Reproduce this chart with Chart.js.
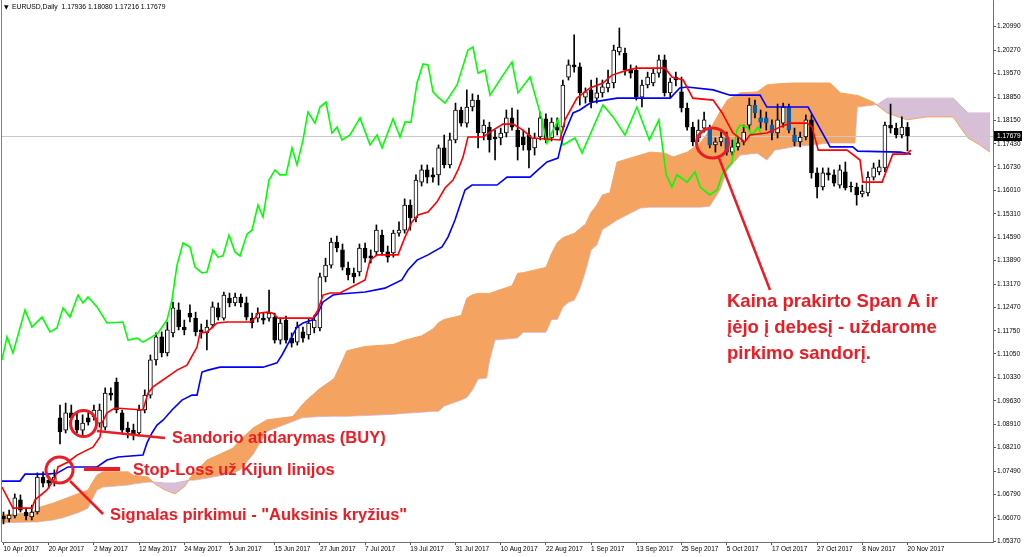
<!DOCTYPE html>
<html><head><meta charset="utf-8">
<script src="https://cdn.jsdelivr.net/npm/chart.js@4.4.1/dist/chart.umd.min.js"></script>
<style>html,body{margin:0;padding:0;background:#fff;overflow:hidden}canvas{display:block}</style>
</head><body>
<canvas id="c" width="1024" height="557"></canvas>
<script>
// ---------------- DATA ----------------
const symbolTitle = 'EURUSD,Daily';
const dateTicks = ['10 Apr 2017','20 Apr 2017','2 May 2017','12 May 2017','24 May 2017','5 Jun 2017','15 Jun 2017','27 Jun 2017','7 Jul 2017','19 Jul 2017','31 Jul 2017','10 Aug 2017','22 Aug 2017','1 Sep 2017','13 Sep 2017','25 Sep 2017','5 Oct 2017','17 Oct 2017','27 Oct 2017','8 Nov 2017','20 Nov 2017'];
const dateTickIndex = [0,8,16,24,32,40,48,56,64,72,80,88,96,104,112,120,128,136,144,152,160];
const yTickLabels = [1.20990,1.20270,1.19570,1.18850,1.18150,1.17430,1.16730,1.16010,1.15310,1.14590,1.13890,1.13170,1.12470,1.11750,1.11050,1.10330,1.09630,1.08910,1.08210,1.07490,1.06790,1.06070,1.05370];

const openP = [1.0613,1.0604,1.0613,1.0662,1.0625,1.0610,1.0625,1.0731,1.0722,1.0716,
1.0911,1.0874,1.0926,1.0904,1.0874,1.0911,1.0914,1.0895,1.0883,1.0986,
1.1020,1.0926,1.0880,1.0874,1.0865,1.0935,1.0980,1.1087,1.1157,1.1108,
1.1169,1.1239,1.1187,1.1229,1.1214,1.1178,1.1169,1.1193,1.1245,1.1214,
1.1275,1.1260,1.1278,1.1260,1.1214,1.1214,1.1214,1.1214,1.1217,1.1147,
1.1208,1.1153,1.1141,1.1172,1.1163,1.1184,1.1184,1.1339,1.1375,1.1445,
1.1421,1.1366,1.1351,1.1354,1.1427,1.1403,1.1415,1.1466,1.1415,1.1412,
1.1472,1.1481,1.1557,1.1518,1.1627,1.1664,1.1649,1.1649,1.1731,1.1679,
1.1755,1.1846,1.1806,1.1855,1.1876,1.1776,1.1794,1.1764,1.1761,1.1776,
1.1822,1.1785,1.1764,1.1770,1.1731,1.1764,1.1819,1.1761,1.1794,1.1794,
1.1946,1.1983,1.1977,1.1885,1.1907,1.1882,1.1898,1.1913,1.1928,1.2022,
1.2019,1.1967,1.1967,1.1885,1.1922,1.1928,1.1958,1.1998,1.1898,1.1946,
1.1901,1.1852,1.1794,1.1761,1.1791,1.1791,1.1740,1.1749,1.1761,1.1718,
1.1734,1.1749,1.1800,1.1861,1.1822,1.1822,1.1800,1.1776,1.1806,1.1855,
1.1770,1.1749,1.1764,1.1816,1.1655,1.1612,1.1655,1.1649,1.1618,1.1658,
1.1615,1.1612,1.1591,1.1594,1.1642,1.1658,1.1670,1.1800,1.1791,1.1770,
1.17936];
const highP = [1.0625,1.0631,1.0680,1.0677,1.0637,1.0646,1.0744,1.0747,1.0734,1.0753,
1.0950,1.0956,1.0950,1.0929,1.0920,1.0926,1.0950,1.0953,1.1002,1.1002,
1.1032,1.0935,1.0898,1.0892,1.0950,1.0996,1.1102,1.1169,1.1172,1.1202,
1.1263,1.1260,1.1208,1.1254,1.1232,1.1196,1.1208,1.1263,1.1260,1.1293,
1.1290,1.1290,1.1287,1.1278,1.1229,1.1245,1.1229,1.1299,1.1229,1.1214,
1.1220,1.1169,1.1202,1.1187,1.1214,1.1223,1.1351,1.1396,1.1457,1.1463,
1.1439,1.1384,1.1366,1.1439,1.1442,1.1421,1.1497,1.1481,1.1433,1.1481,
1.1506,1.1576,1.1573,1.1649,1.1679,1.1679,1.1670,1.1740,1.1770,1.1776,
1.1867,1.1855,1.1907,1.1895,1.1891,1.1816,1.1809,1.1785,1.1791,1.1846,
1.1852,1.1846,1.1785,1.1791,1.1776,1.1840,1.1834,1.1822,1.1822,1.1937,
1.1998,1.2074,1.1989,1.1913,1.1937,1.1943,1.1937,1.1967,1.2043,1.2095,
1.2034,1.1983,1.1980,1.1937,1.1961,1.1973,1.2013,1.2013,1.1943,1.1961,
1.1946,1.1867,1.1809,1.1816,1.1840,1.1800,1.1761,1.1779,1.1779,1.1755,
1.1764,1.1800,1.1882,1.1876,1.1846,1.1840,1.1816,1.1864,1.1867,1.1864,
1.1791,1.1779,1.1831,1.1831,1.1670,1.1670,1.1670,1.1664,1.1679,1.1688,
1.1627,1.1624,1.1618,1.1658,1.1685,1.1694,1.1809,1.1864,1.1806,1.1825,
1.18080];
const lowP = [1.0589,1.0595,1.0607,1.0625,1.0601,1.0601,1.0619,1.0701,1.0698,1.0704,
1.0832,1.0865,1.0880,1.0865,1.0859,1.0889,1.0904,1.0883,1.0874,1.0965,
1.0926,1.0862,1.0850,1.0844,1.0856,1.0926,1.0971,1.1071,1.1096,1.1099,
1.1157,1.1178,1.1163,1.1202,1.1160,1.1153,1.1117,1.1184,1.1208,1.1208,
1.1248,1.1251,1.1248,1.1208,1.1184,1.1202,1.1196,1.1205,1.1138,1.1135,
1.1138,1.1126,1.1132,1.1141,1.1150,1.1169,1.1175,1.1324,1.1366,1.1415,
1.1360,1.1330,1.1321,1.1342,1.1384,1.1381,1.1403,1.1406,1.1384,1.1399,
1.1463,1.1472,1.1481,1.1506,1.1615,1.1624,1.1627,1.1618,1.1670,1.1670,
1.1746,1.1797,1.1794,1.1843,1.1731,1.1755,1.1718,1.1694,1.1740,1.1764,
1.1785,1.1694,1.1724,1.1670,1.1709,1.1755,1.1746,1.1752,1.1770,1.1785,
1.1937,1.1961,1.1861,1.1867,1.1852,1.1867,1.1885,1.1901,1.1913,1.2013,
1.1952,1.1943,1.1876,1.1855,1.1913,1.1919,1.1946,1.1888,1.1885,1.1919,
1.1840,1.1785,1.1737,1.1749,1.1779,1.1731,1.1718,1.1737,1.1709,1.1709,
1.1724,1.1740,1.1785,1.1822,1.1791,1.1785,1.1755,1.1761,1.1794,1.1776,
1.1737,1.1734,1.1755,1.1639,1.1579,1.1603,1.1633,1.1615,1.1609,1.1603,
1.1597,1.1557,1.1582,1.1585,1.1633,1.1649,1.1658,1.1776,1.1761,1.1761,
1.17216];
const closeP = [1.0604,1.0616,1.0668,1.0631,1.0613,1.0625,1.0731,1.0713,1.0713,1.0731,
1.0868,1.0926,1.0911,1.0874,1.0895,1.0898,1.0935,1.0935,1.0986,1.0980,
1.0935,1.0874,1.0868,1.0862,1.0935,1.0980,1.1087,1.1157,1.1108,1.1178,
1.1245,1.1187,1.1178,1.1217,1.1172,1.1172,1.1187,1.1248,1.1217,1.1284,
1.1260,1.1278,1.1260,1.1217,1.1199,1.1229,1.1208,1.1229,1.1147,1.1199,
1.1147,1.1138,1.1187,1.1153,1.1199,1.1208,1.1339,1.1375,1.1445,1.1427,
1.1369,1.1345,1.1339,1.1427,1.1396,1.1396,1.1481,1.1415,1.1399,1.1472,
1.1481,1.1557,1.1518,1.1633,1.1664,1.1642,1.1642,1.1731,1.1679,1.1755,
1.1846,1.1806,1.1855,1.1876,1.1776,1.1800,1.1755,1.1758,1.1776,1.1822,
1.1794,1.1734,1.1740,1.1724,1.1761,1.1822,1.1755,1.1809,1.1785,1.1922,
1.1983,1.1977,1.1898,1.1901,1.1870,1.1898,1.1916,1.1928,1.2028,1.2037,
1.1967,1.1958,1.1885,1.1922,1.1946,1.1958,1.1998,1.1898,1.1931,1.1937,
1.1852,1.1794,1.1749,1.1785,1.1816,1.1740,1.1749,1.1764,1.1718,1.1734,
1.1746,1.1779,1.1861,1.1837,1.1809,1.1806,1.1776,1.1816,1.1855,1.1785,
1.1749,1.1764,1.1816,1.1655,1.1612,1.1655,1.1649,1.1624,1.1664,1.1609,
1.1612,1.1588,1.1600,1.1642,1.1670,1.1673,1.1800,1.1791,1.1770,1.1794,
1.17679];

// Tenkan-sen (red) vertices: bar index, price
const tenkanIdx = [-0.27,1.68,5.04,5.58,7.70,9.12,9.65,11.42,13.01,14.78,15.84,17.08,17.43,18.32,19.73,24.69,25.58,26.46,27.70,28.94,30.71,32.48,34.25,34.78,36.02,37.79,39.56,43.63,44.51,45.04,46.81,47.70,48.58,54.78,55.66,56.55,57.79,59.56,64.0,64.87,66.11,69.82,71.06,72.30,73.36,75.13,76.73,78.14,79.56,80.44,81.33,82.21,84.87,86.64,88.41,90.18,91.95,93.54,98.50,99.38,101.5,103.8,106.1,107.7,110.4,112.1,117.1,118.3,120.3,122.0,125.6,127.2,129.1,131.2,132.1,135.1,137.4,139.2,142.2,143.1,144.2,149.3,151.6,152.1,155.5,157.4,159.9,160.6];
const tenkanVal = [1.0701,1.0637,1.0637,1.0662,1.0692,1.0728,1.0762,1.0777,1.0798,1.0813,1.0822,1.0853,1.0895,1.0926,1.0941,1.0935,1.0986,1.1005,1.1020,1.1035,1.1056,1.1071,1.1126,1.1169,1.1172,1.1199,1.1202,1.1202,1.1214,1.1229,1.1232,1.1229,1.1214,1.1214,1.1239,1.1284,1.1290,1.1290,1.1330,1.1390,1.1406,1.1406,1.1460,1.1506,1.1527,1.1536,1.1567,1.1609,1.1633,1.1664,1.1703,1.1764,1.1764,1.1785,1.1803,1.1803,1.1785,1.1761,1.1755,1.1816,1.1882,1.1913,1.1928,1.1952,1.1967,1.1973,1.1973,1.1946,1.1937,1.1882,1.1876,1.1837,1.1776,1.1749,1.1770,1.1776,1.1794,1.1806,1.1806,1.1794,1.1724,1.1724,1.1694,1.1627,1.1627,1.1712,1.1712,1.1724];

// Kijun-sen (blue)
const kijunIdx = [-0.27,2.92,3.81,7.70,9.47,11.42,16.55,18.32,20.27,24.69,25.40,26.28,27.17,28.23,29.82,31.59,33.36,34.25,35.13,36.19,38.32,45.93,48.41,49.29,50.71,51.95,53.01,54.60,55.66,56.55,58.32,59.56,64.0,67.5,70.5,71.59,73.19,75.13,77.61,78.67,79.91,81.68,82.92,87.35,89.12,93.19,94.60,96.19,98.14,99.03,100.8,102.0,103.3,104.2,108.6,118.0,119.7,121.0,125.6,128.6,133.9,135.1,142.4,146.3,150.3,151.2,158.7,160.6];
const kijunVal = [1.0719,1.0719,1.0740,1.0740,1.0743,1.0762,1.0762,1.0783,1.0792,1.0798,1.0835,1.0865,1.0889,1.0904,1.0935,1.0965,1.0980,1.0980,1.1050,1.1056,1.1065,1.1065,1.1078,1.1102,1.1147,1.1187,1.1199,1.1208,1.1229,1.1263,1.1284,1.1287,1.1293,1.1305,1.1330,1.1360,1.1390,1.1406,1.1430,1.1460,1.1512,1.1603,1.1618,1.1618,1.1642,1.1642,1.1664,1.1688,1.1700,1.1764,1.1837,1.1846,1.1861,1.1870,1.1882,1.1882,1.1913,1.1916,1.1907,1.1891,1.1891,1.1855,1.1855,1.1734,1.1734,1.1721,1.1718,1.1712];

// Chikou span (green)
const chikouIdx = [-0.27,0.62,1.68,3.81,5.04,6.81,8.23,9.47,10.53,11.77,13.19,14.07,14.96,16.55,18.32,21.15,22.04,23.63,24.69,26.28,27.35,28.94,29.82,30.71,31.77,33.01,33.89,35.13,36.02,37.08,37.96,38.85,39.91,40.97,41.86,43.10,43.98,45.04,45.93,46.99,48.05,48.94,50.0,51.06,51.95,53.01,53.89,55.13,56.02,57.08,58.14,59.03,59.91,61.33,63.1,64.87,66.11,67.0,68.94,70.18,71.06,72.12,73.19,74.25,75.13,76.02,76.90,78.14,80.27,82.21,83.10,83.98,85.22,86.11,88.41,90.0,91.06,93.19,95.31,96.19,98.14,99.03,101.15,102.4,106.1,107.9,110.0,112.1,114.3,116.0,117.3,118.3,119.2,121.0,122.4,123.3,125.0,126.3,127.3,128.9,129.8,130.4,131.6,132.5,133.5,134.2];
const chikouVal = [1.1087,1.1157,1.1108,1.1239,1.1187,1.1217,1.1172,1.1184,1.1245,1.1217,1.1284,1.1260,1.1278,1.1248,1.1199,1.1202,1.1147,1.1153,1.1141,1.1157,1.1169,1.1208,1.1269,1.1375,1.1442,1.1430,1.1369,1.1351,1.1354,1.1421,1.1399,1.1403,1.1466,1.1415,1.1403,1.1469,1.1481,1.1557,1.1521,1.1633,1.1664,1.1649,1.1649,1.1731,1.1679,1.1755,1.1840,1.1806,1.1855,1.1870,1.1776,1.1794,1.1755,1.1770,1.1822,1.1740,1.1770,1.1731,1.1819,1.1764,1.1809,1.1809,1.1928,1.1986,1.1983,1.1901,1.1885,1.1867,1.1922,1.2028,1.2037,1.1958,1.1967,1.1891,1.1952,1.1992,1.1898,1.1946,1.1816,1.1746,1.1816,1.1740,1.1761,1.1715,1.1861,1.1825,1.1770,1.1855,1.1755,1.1816,1.1649,1.1612,1.1649,1.1627,1.1658,1.1612,1.1588,1.1603,1.1655,1.1685,1.1785,1.1800,1.1794,1.1770,1.1794,1.1770];

// Senkou span A / B (cloud), sampled at common bar indices
const cloudIdx = [-0.62,5.04,5.93,8.76,10.35,13.54,14.96,15.66,16.55,17.61,22.04,22.92,25.58,26.81,28.58,30.35,32.12,33.01,33.89,36.02,40.62,41.86,44.16,46.64,51.2,52.83,54.0,56.0,58.5,60.8,64.0,69.0,71.0,74.0,76.0,77.0,78.0,81.0,82.0,83.0,84.0,85.5,86.0,87.0,90.0,91.0,92.0,96.0,97.0,98.0,99.0,100.0,101.0,102.0,103.0,104.0,105.0,106.0,107.3,108.6,112.7,114.4,117.1,118.5,121.0,123.3,125.0,126.8,128.1,130.4,133.4,135.1,136.5,139.7,146.3,148.1,150.7,151.1,153.9,154.8,156.4,159.9,163.4,168.1,169.3,170.7,172.8,174.6];
const spanA = [1.0616,1.0622,1.0637,1.0652,1.0662,1.0683,1.0692,1.0713,1.0737,1.0747,1.0747,1.0737,1.0731,1.0710,1.0692,1.0680,1.0704,1.0728,1.0747,1.0783,1.0819,1.0844,1.0880,1.0905,1.0915,1.0950,1.0970,1.1000,1.1030,1.1115,1.1128,1.1134,1.1147,1.1160,1.1181,1.1200,1.1210,1.1222,1.1274,1.1285,1.1289,1.1289,1.1289,1.1295,1.1312,1.1350,1.1352,1.1368,1.1410,1.1443,1.1458,1.1465,1.1471,1.1485,1.1499,1.1535,1.1557,1.1588,1.1594,1.1688,1.1709,1.1718,1.1715,1.1703,1.1718,1.1746,1.1785,1.1840,1.1876,1.1898,1.1901,1.1922,1.1925,1.1928,1.1928,1.1898,1.1891,1.1891,1.1870,1.1858,1.1837,1.1816,1.1825,1.1825,1.1794,1.1761,1.1740,1.1718];
const spanB = [1.0592,1.0595,1.0595,1.0601,1.0607,1.0625,1.0637,1.0662,1.0692,1.0701,1.0707,1.0710,1.0716,1.0716,1.0713,1.0713,1.0719,1.0722,1.0722,1.0728,1.0743,1.0753,1.0800,1.0870,1.0900,1.0911,1.0913,1.0915,1.0916,1.0916,1.0918,1.0922,1.0925,1.0928,1.0931,1.0931,1.0947,1.0965,1.0973,1.0996,1.1029,1.1032,1.1084,1.1148,1.1152,1.1154,1.1171,1.1171,1.1210,1.1210,1.1247,1.1262,1.1268,1.1303,1.1356,1.1421,1.1436,1.1483,1.1497,1.1512,1.1548,1.1551,1.1551,1.1551,1.1551,1.1551,1.1554,1.1603,1.1664,1.1709,1.1715,1.1694,1.1724,1.1734,1.1746,1.1746,1.1746,1.1855,1.1861,1.1864,1.1882,1.1882,1.1882,1.1882,1.1861,1.1837,1.1837,1.1837];

// Annotation texts
const noteBuy = 'Sandorio atidarymas (BUY)';
const noteStop = 'Stop-Loss už Kijun linijos';
const noteSignal = 'Signalas pirkimui - "Auksinis kryžius"';
const noteExit = ['Kaina prakirto Span A ir', 'įėjo į debesį - uždarome', 'pirkimo sandorį.'];

// ---------------- STYLE ----------------
const RED = '#ec1c24';
const CLOUD_BODY_FROM = 124, CLOUD_BODY_TO = 142;
const lastI = closeP.length - 1;

const pts = (xs, ys) => xs.map((x, k) => ({x: x, y: ys[k]}));
const bodies = openP.map((o, i) => ({x: i, y: [o, closeP[i]]}));
const wicks = lowP.map((l, i) => ({x: i, y: [l, highP[i]]}));
const isBull = i => closeP[i] >= openP[i];
const bodyFill = ctx => {
  const i = ctx.dataIndex;
  if (isBull(i)) return '#ffffff';
  return (i >= CLOUD_BODY_FROM && i <= CLOUD_BODY_TO) ? '#0b5ea8' : '#000000';
};
const bodyBorder = ctx => {
  const i = ctx.dataIndex;
  if (isBull(i)) return '#000000';
  return (i >= CLOUD_BODY_FROM && i <= CLOUD_BODY_TO) ? '#0b5ea8' : '#000000';
};

const overlay = {
  id: 'overlay',
  afterDatasetDraw(chart, args) {
    if (args.index !== 0) return;
    const {ctx, chartArea: a, scales: {y}} = chart;
    const py = Math.round(y.getPixelForValue(closeP[lastI])) + 0.5;
    ctx.save();
    ctx.strokeStyle = '#c8c8c8'; ctx.lineWidth = 1;
    ctx.beginPath(); ctx.moveTo(a.left, py); ctx.lineTo(a.right, py); ctx.stroke();
    ctx.restore();
  },
  afterDraw(chart) {
    const {ctx, chartArea: a, scales: {y}} = chart;
    ctx.save();
    // frame
    ctx.strokeStyle = '#808080'; ctx.lineWidth = 1;
    ctx.beginPath(); ctx.moveTo(1.5, 0); ctx.lineTo(1.5, a.bottom); ctx.stroke();
    ctx.beginPath(); ctx.moveTo(a.right + 0.5, 0); ctx.lineTo(a.right + 0.5, a.top); ctx.stroke();
    // title
    ctx.fillStyle = '#000';
    ctx.font = '6px "DejaVu Sans"';
    ctx.textBaseline = 'middle';
    ctx.fillText('\u25BC', 4, 7);
    ctx.font = '6.8px "Liberation Sans"';
    const f = v => v.toFixed(5);
    ctx.fillText(symbolTitle + '  ' + f(openP[lastI]) + ' ' + f(highP[lastI]) + ' ' + f(lowP[lastI]) + ' ' + f(closeP[lastI]), 12, 7.5);
    // current price label
    const py = Math.round(y.getPixelForValue(closeP[lastI]));
    ctx.fillStyle = '#000';
    ctx.fillRect(a.right + 1, py - 5, 28, 10);
    ctx.fillStyle = '#fff';
    ctx.font = '6.5px "Liberation Sans"';
    ctx.fillText(f(closeP[lastI]), a.right + 4, py + 0.5);

    // annotations
    ctx.strokeStyle = RED; ctx.fillStyle = RED;
    ctx.lineWidth = 3;
    const circle = (cx, cy, rx, ry) => { ctx.beginPath(); ctx.ellipse(cx, cy, rx, ry, 0, 0, Math.PI * 2); ctx.stroke(); };
    circle(83.5, 423.5, 13, 13);
    circle(59.5, 470, 13.5, 13);
    circle(712.5, 143, 16, 15);
    ctx.lineWidth = 2.5;
    const line = (x1, y1, x2, y2) => { ctx.beginPath(); ctx.moveTo(x1, y1); ctx.lineTo(x2, y2); ctx.stroke(); };
    line(97, 431, 165, 438);
    line(70, 481, 103, 514);
    line(719, 158, 770, 290);
    ctx.lineWidth = 4;
    line(84, 469, 120, 469);
    ctx.textBaseline = 'alphabetic';
    ctx.font = 'bold 16.5px "Liberation Sans"';
    ctx.fillText(noteBuy, 172, 443);
    ctx.fillText(noteStop, 133, 475);
    ctx.fillText(noteSignal, 110, 520);
    ctx.font = 'bold 18.5px "Liberation Sans"';
    noteExit.forEach((t, k) => ctx.fillText(t, 727, 307 + k * 26));
    ctx.restore();
  }
};

const tickFont = {family: 'Liberation Sans', size: 6.5};

new Chart(document.getElementById('c'), {
  data: {
    datasets: [
      {type: 'line', data: pts(cloudIdx, spanA), borderColor: '#f4a460', borderWidth: 1, pointRadius: 0, tension: 0,
       fill: {target: 1, above: '#f4a460', below: '#d8bfd8'}, order: 10},
      {type: 'line', data: pts(cloudIdx, spanB), borderColor: '#d2b8d8', borderWidth: 1, pointRadius: 0, tension: 0, fill: false, order: 11},
      {type: 'bar', data: wicks, backgroundColor: '#000', borderWidth: 0, barThickness: 1, grouped: false, order: 6, minBarLength: 1},
      {type: 'bar', data: bodies, backgroundColor: bodyFill, borderColor: bodyBorder, borderWidth: 1, borderSkipped: false,
       barThickness: 4, grouped: false, order: 5, minBarLength: 1},
      {type: 'line', data: pts(chikouIdx, chikouVal), borderColor: '#00ff00', borderWidth: 1.6, pointRadius: 0, tension: 0, fill: false, order: 3},
      {type: 'line', data: pts(kijunIdx, kijunVal), borderColor: '#0000ff', borderWidth: 1.6, pointRadius: 0, tension: 0, fill: false, order: 2},
      {type: 'line', data: pts(tenkanIdx, tenkanVal), borderColor: '#ff0000', borderWidth: 1.6, pointRadius: 0, tension: 0, fill: false, order: 1}
    ]
  },
  options: {
    responsive: false, animation: false, devicePixelRatio: 1,
    layout: {padding: {left: 2, top: 1, right: 0, bottom: 0}},
    plugins: {legend: {display: false}, tooltip: {enabled: false}},
    scales: {
      x: {
        type: 'linear', min: -0.265, max: 175.13, offset: false,
        afterBuildTicks: s => { s.ticks = dateTickIndex.map(v => ({value: v})); },
        afterFit: s => { s.height = 15; s.paddingLeft = 0; s.paddingRight = 0; },
        ticks: {autoSkip: false, maxRotation: 0, minRotation: 0, align: 'start', padding: 0, color: '#000', font: tickFont,
          callback: v => dateTicks[dateTickIndex.indexOf(v)]},
        grid: {drawOnChartArea: false, offset: false, tickLength: 3, color: '#555'},
        border: {color: '#707070'}
      },
      y: {
        type: 'linear', position: 'right', min: 1.0534, max: 1.2177,
        afterBuildTicks: s => { s.ticks = yTickLabels.map(v => ({value: v})); },
        afterFit: s => { s.width = 31; s.paddingTop = 0; s.paddingBottom = 0; },
        ticks: {autoSkip: false, padding: 1, color: '#000', font: tickFont, callback: v => v.toFixed(5)},
        grid: {drawOnChartArea: false, tickLength: 3, color: '#555'},
        border: {color: '#707070'}
      }
    }
  },
  plugins: [overlay]
});
</script>
</body></html>
